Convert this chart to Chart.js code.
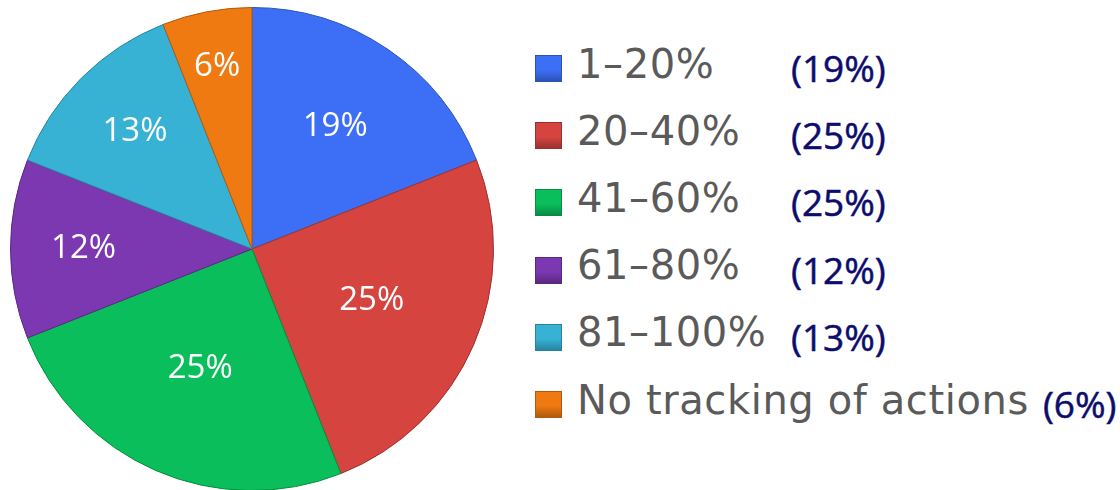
<!DOCTYPE html>
<html>
<head>
<meta charset="utf-8">
<script src="https://cdn.jsdelivr.net/npm/chart.js@4"></script>
<style>
    html, body { margin: 0; padding: 0; background: #fff; }
    body { width: 1120px; height: 490px; position: relative; overflow: hidden; }
    #pieBox { position: absolute; left: 10px; top: 7px; width: 484px; height: 484px; }
    #legend { position: absolute; left: 535px; top: 30px; white-space: nowrap; }
    .row { display: flex; align-items: center; height: 67.2px; }
    .swatch { width: 27px; height: 27px; box-sizing: border-box; margin-top: 10px; flex: none; }
    .label { font-family: "DejaVu Sans", sans-serif; font-size: 40px; letter-spacing: 0.6px; color: #5a5a5a; margin-left: 15px; min-width: 200px; }
    .pct { font-family: "Open Sans", sans-serif; font-size: 37px; color: #0c0c6e; margin-left: 14px; margin-top: 8px; -webkit-text-stroke: 0.5px #0c0c6e; }
</style>
</head>
<body>
<div id="pieBox"><canvas id="pieChart"></canvas></div>
<div id="legend"></div>
<script>
const categories = ['1\u201320%', '20\u201340%', '41\u201360%', '61\u201380%', '81\u2013100%', 'No tracking of actions'];
const shares = [19, 25, 25, 12, 13, 6];
const sliceColors = ['#3d6ef6', '#d5443f', '#0abf5b', '#7b38b0', '#37b2d4', '#f07a12'];
const edgeColors = ['#2d52b8', '#9c3230', '#078c43', '#5a2882', '#2784a0', '#b05a0d'];

// legend built from the same arrays
const legend = document.getElementById('legend');
categories.forEach((name, i) => {
    const row = document.createElement('div');
    row.className = 'row';
    row.innerHTML = `
        <div class="swatch" style="background: linear-gradient(180deg, ${sliceColors[i]} 0%, ${sliceColors[i]} 55%, ${edgeColors[i]} 100%); border: 1px solid ${edgeColors[i]};"></div>
        <span class="label">${name}</span>
        <span class="pct">(${shares[i]}%)</span>
    `;
    legend.appendChild(row);
});

const sliceLabels = {
    id: 'sliceLabels',
    afterDatasetsDraw(chart) {
        const ctx = chart.ctx;
        const meta = chart.getDatasetMeta(0);
        ctx.save();
        ctx.fillStyle = '#ffffff';
        ctx.font = '33px "Open Sans", sans-serif';
        ctx.textAlign = 'center';
        ctx.textBaseline = 'middle';
        meta.data.forEach((arc, i) => {
            const p = arc.getProps(['x', 'y', 'startAngle', 'endAngle', 'outerRadius'], true);
            const mid = (p.startAngle + p.endAngle) / 2;
            // smaller slices get their label pushed further out
            const frac = 0.54 + 0.23 * (25 - shares[i]) / 19;
            const r = p.outerRadius * frac;
            ctx.fillText(shares[i] + '%', p.x + Math.cos(mid) * r, p.y + Math.sin(mid) * r);
        });
        ctx.restore();
    }
};

new Chart(document.getElementById('pieChart'), {
    type: 'pie',
    data: {
        labels: categories,
        datasets: [{
            data: shares,
            backgroundColor: sliceColors,
            borderColor: edgeColors,
            borderWidth: 1
        }]
    },
    options: {
        responsive: true,
        maintainAspectRatio: false,
        animation: false,
        layout: { padding: 0 },
        plugins: {
            legend: { display: false },
            tooltip: { enabled: false }
        }
    },
    plugins: [sliceLabels]
});
</script>
</body>
</html>
